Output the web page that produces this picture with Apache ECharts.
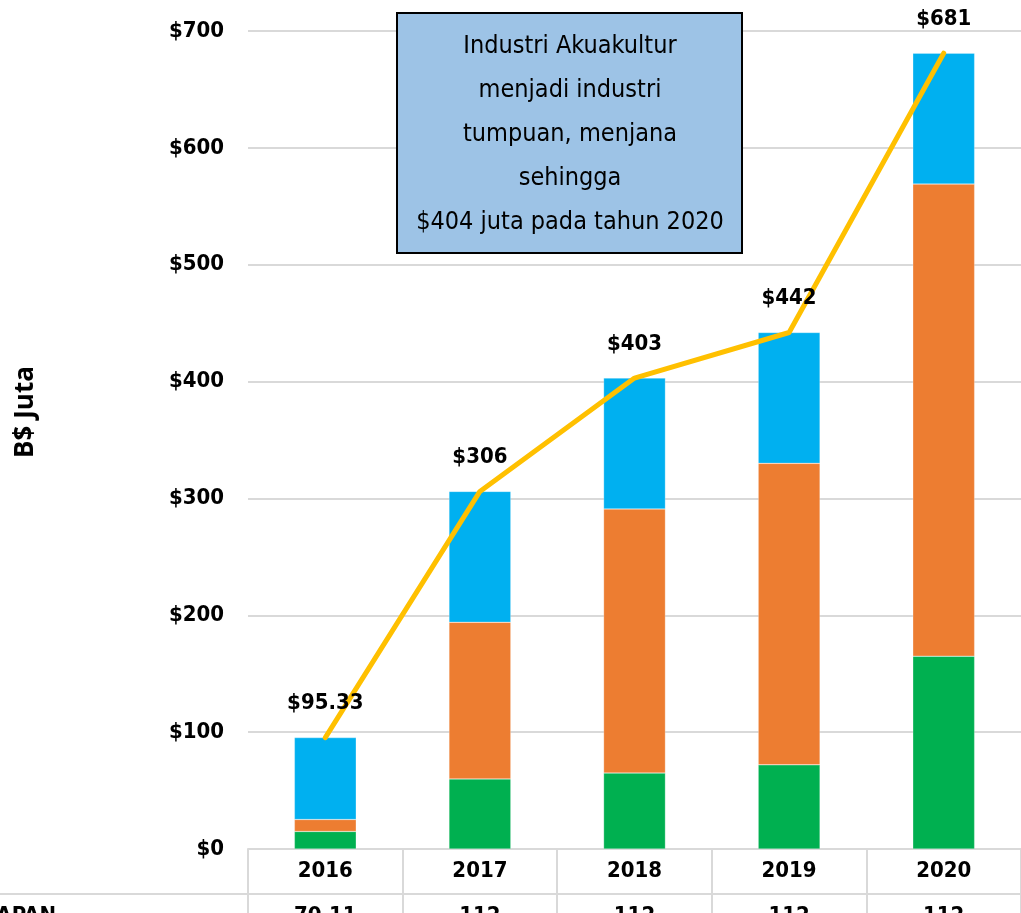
<!DOCTYPE html>
<html>
<head>
<meta charset="utf-8">
<script src="https://cdn.jsdelivr.net/npm/echarts@6/dist/echarts.min.js"></script>
<style>
html,body{margin:0;padding:0;background:#fff;}
#c{width:1021px;height:913px;}
</style>
</head>
<body>
<div id="c"></div>
<script>
// ---- data ----
var years = ['2016', '2017', '2018', '2019', '2020'];
var greenVals = [15.0, 60, 65, 72, 165];
var orangeVals = [10.22, 134, 226, 258, 404];
var blueVals = [70.11, 112, 112, 112, 112];
var totals = [95.33, 306, 403, 442, 681];
var totalLabels = ['$95.33', '$306', '$403', '$442', '$681'];
var tableRowValues = ['70.11', '112', '112', '112', '112'];
var tableRowName = 'TANGKAPAN';
var yTicks = [0, 100, 200, 300, 400, 500, 600, 700];
var boxLines = ['Industri Akuakultur', 'menjadi industri', 'tumpuan, menjana', 'sehingga', '$404 juta pada tahun 2020'];

var FONT = '"DejaVu Sans Condensed", sans-serif';
var GRID = '#d9d9d9';

var chart = echarts.init(document.getElementById('c'), null, {renderer: 'canvas'});
var option = {
  animation: false,
  backgroundColor: '#fff',
  grid: {left: 248, right: 0, top: 31, bottom: 64, containLabel: false, outerBoundsMode: 'none'},
  xAxis: {
    type: 'category',
    data: years,
    boundaryGap: true,
    axisLine: {show: true, lineStyle: {color: GRID, width: 2}},
    axisTick: {show: true, interval: 0, length: 70, lineStyle: {color: GRID, width: 2}},
    axisLabel: {
      interval: 0,
      margin: 0,
      hideOverlap: false,
      formatter: function (v, i) {
        return '{y|' + v + '}\n{v|' + tableRowValues[i] + '}';
      },
      rich: {
        y: {fontFamily: FONT, fontWeight: 'bold', fontSize: 22, color: '#000', lineHeight: 45, height: 45},
        v: {fontFamily: FONT, fontWeight: 'bold', fontSize: 22, color: '#000', lineHeight: 45, height: 45}
      }
    }
  },
  yAxis: {
    type: 'value',
    min: yTicks[0],
    max: yTicks[yTicks.length - 1],
    interval: yTicks[1] - yTicks[0],
    axisLine: {show: false},
    axisTick: {show: false},
    splitLine: {lineStyle: {color: GRID, width: 2}},
    axisLabel: {
      margin: 24,
      fontFamily: FONT,
      fontWeight: 'bold',
      fontSize: 22,
      color: '#000',
      formatter: function (v) { return '$' + v; }
    }
  },
  series: [
    {type: 'bar', name: 'green', stack: 't', data: greenVals, barWidth: '40%',
     itemStyle: {color: '#00B050', borderColor: 'rgba(255,255,255,0.5)', borderWidth: 0.5}},
    {type: 'bar', name: 'orange', stack: 't', data: orangeVals, barWidth: '40%',
     itemStyle: {color: '#ED7D31', borderColor: 'rgba(255,255,255,0.5)', borderWidth: 0.5}},
    {type: 'bar', name: 'blue', stack: 't', data: blueVals, barWidth: '40%',
     itemStyle: {color: '#00B0F0', borderColor: 'rgba(255,255,255,0.5)', borderWidth: 0.5}},
    {type: 'line', name: 'total', data: totals, z: 5,
     symbol: 'circle', symbolSize: 2, showSymbol: true,
     itemStyle: {color: '#FFC000'},
     lineStyle: {color: '#FFC000', width: 5, cap: 'round', join: 'round'},
     label: {
       show: true, position: 'top', distance: 22,
       fontFamily: FONT, fontWeight: 'bold', fontSize: 22, color: '#000',
       formatter: function (p) { return totalLabels[p.dataIndex]; }
     }}
  ],
  graphic: [
    {type: 'line', shape: {x1: 0, y1: 894, x2: 1021, y2: 894}, style: {stroke: GRID, lineWidth: 2}, z: 10},
    {type: 'text', x: 56, y: 916, z: 10, style: {text: tableRowName, fill: '#000', font: 'bold 22px ' + FONT, textAlign: 'right', textVerticalAlign: 'middle'}},
    {type: 'text', x: 26, y: 412, rotation: Math.PI / 2, z: 10,
     style: {text: 'B$ Juta', fill: '#000', font: 'bold 26px "Open Sans", "Noto Sans", sans-serif', textAlign: 'center', textVerticalAlign: 'middle'}},
    {type: 'rect', z: 100, shape: {x: 397, y: 13, width: 345, height: 240}, style: {fill: '#9DC3E6', stroke: '#000', lineWidth: 2}},
    {type: 'text', z: 101, x: 570, y: 134,
     style: {text: boxLines.join('\n'), fill: '#000', font: '25px ' + FONT, lineHeight: 44, textAlign: 'center', textVerticalAlign: 'middle'}}
  ]
};
chart.setOption(option);
</script>
</body>
</html>
